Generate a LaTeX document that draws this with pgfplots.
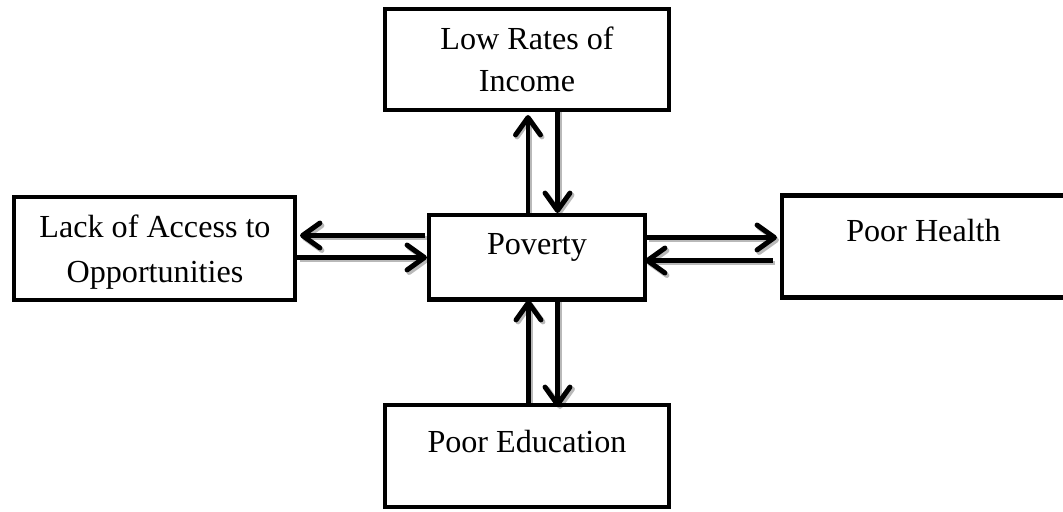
\documentclass[border=0pt]{standalone}
\usepackage{pgfplots}
\pgfplotsset{compat=1.18}
\usepackage{fontspec}
\setmainfont{Liberation Serif}
\usetikzlibrary{arrows.meta}
\tikzset{lbl/.style={font=\fontsize{12.9}{15}\selectfont, anchor=base, inner sep=0pt}}
\begin{document}
\begin{tikzpicture}
\begin{axis}[
  scale only axis, width=15cm, height=7.2249cm,
  xmin=0, xmax=1063, ymin=0, ymax=512, y dir=reverse,
  hide axis,
  box/.style={black, line width=2pt, line join=miter, no markers},
  arr/.style={black, line width=2pt, no markers, -{Straight Barb[length=7pt,width=10pt,round]}},
  shd/.style={gray!55, line width=2pt, no markers, -{Straight Barb[length=7pt,width=10pt,round]}},
]
\path (axis cs:0,0) rectangle (axis cs:1063,512);
% shadows of arrows
\addplot[shd] coordinates {(529.5,213) (529.5,117)};
\addplot[shd] coordinates {(559.5,112) (559.5,215)};
\addplot[shd] coordinates {(427,238) (302,238)};
\addplot[shd] coordinates {(300,260) (429,260)};
\addplot[shd] coordinates {(649,240) (779,240)};
\addplot[shd] coordinates {(775,263) (647,263)};
\addplot[shd] coordinates {(530.5,405) (530.5,302)};
\addplot[shd] coordinates {(560,302) (560,409)};
% boxes
\addplot[box] coordinates {(385,9) (669,9) (669,110) (385,110) (385,9)} --cycle;
\addplot[box] coordinates {(14,197) (295,197) (295,300) (14,300) (14,197)} --cycle;
\addplot[box] coordinates {(429,215) (645,215) (645,299.5) (429,299.5) (429,215)} --cycle;
\addplot[box] coordinates {(782,195.5) (1075,195.5) (1075,297.5) (782,297.5) (782,195.5)} --cycle;
\addplot[box] coordinates {(385,405) (669,405) (669,507) (385,507) (385,405)} --cycle;
% arrows
\addplot[arr] coordinates {(528,213) (528,115)};
\addplot[arr] coordinates {(557.5,110) (557.5,213)};
\addplot[arr] coordinates {(425,235.5) (300,235.5)};
\addplot[arr] coordinates {(297,257.5) (427,257.5)};
\addplot[arr] coordinates {(647,237.5) (777,237.5)};
\addplot[arr] coordinates {(773,260.5) (645,260.5)};
\addplot[arr] coordinates {(528.5,405) (528.5,300)};
\addplot[arr] coordinates {(557.5,300) (557.5,407)};
% texts
\node[lbl] at (axis cs:527,50) {Low Rates of};
\node[lbl] at (axis cs:527,92) {Income};
\node[lbl] at (axis cs:155,238) {Lack of Access to};
\node[lbl] at (axis cs:155,282) {Opportunities};
\node[lbl] at (axis cs:537,255) {Poverty};
\node[lbl] at (axis cs:923.5,242) {Poor Health};
\node[lbl] at (axis cs:527,452) {Poor Education};
\end{axis}
\end{tikzpicture}
\end{document}
